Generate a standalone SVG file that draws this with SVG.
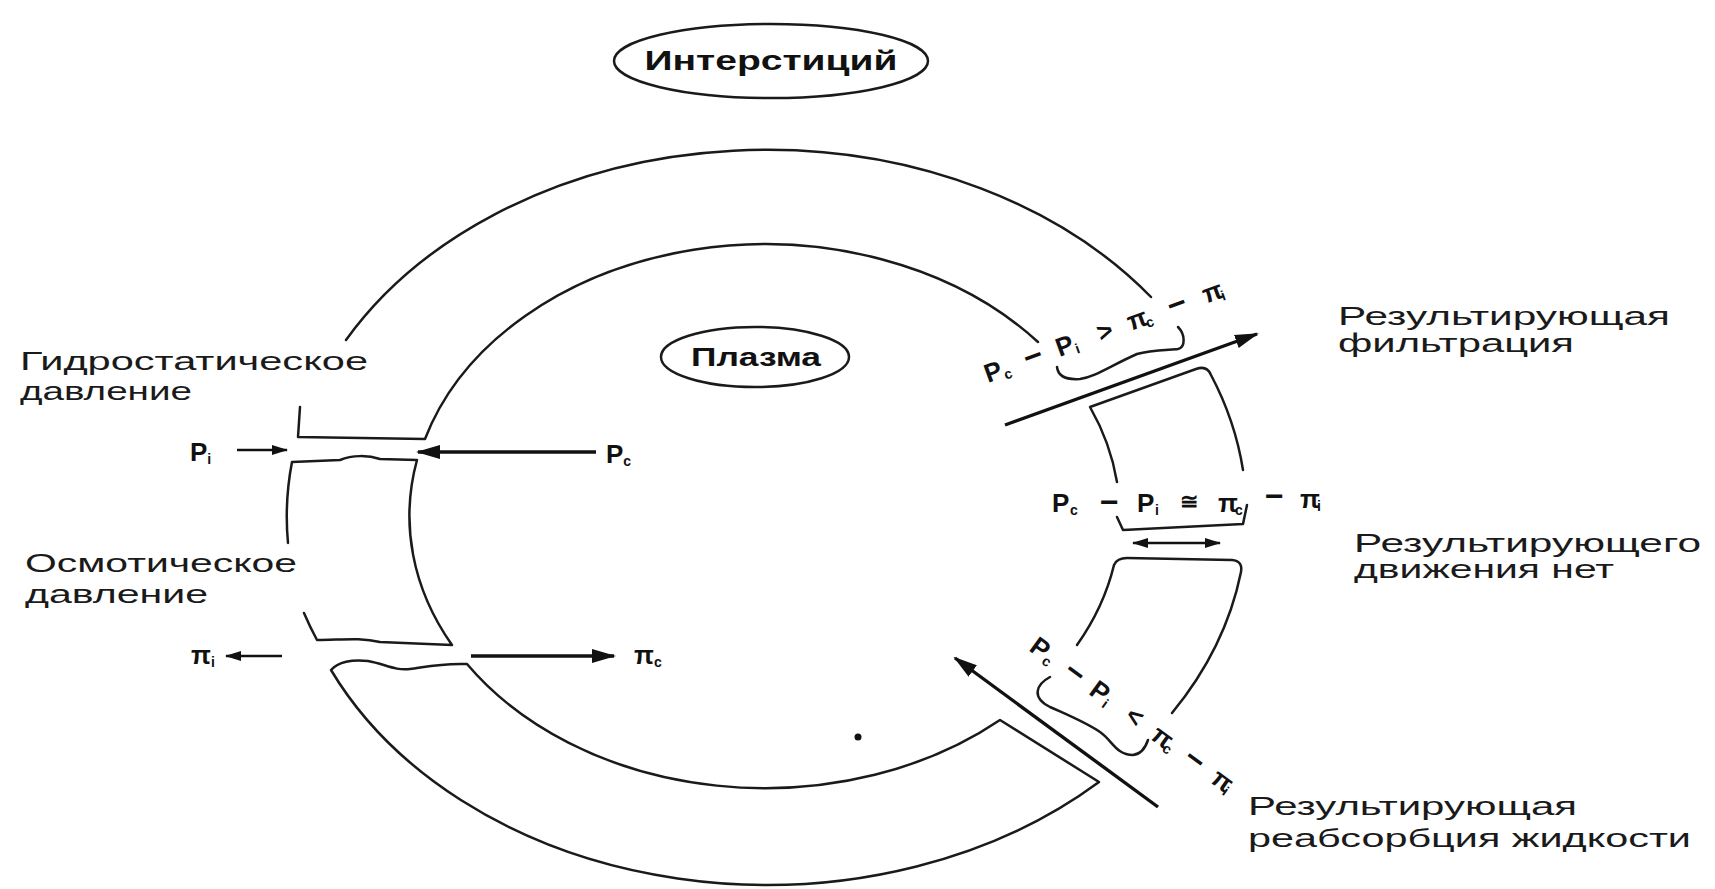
<svg xmlns="http://www.w3.org/2000/svg" width="1715" height="889" viewBox="0 0 1715 889">
<style>
.w{fill:none;stroke:#1a1a1a;stroke-width:2.5;stroke-linecap:round;stroke-linejoin:round}
.a{fill:none;stroke:#111;stroke-width:3.4}
.t{fill:none;stroke:#111;stroke-width:2.4}
.lbl{font-family:"Liberation Sans",Arial,sans-serif;font-size:25px;fill:#1a1a1a}
.b{font-family:"Liberation Sans",Arial,sans-serif;font-weight:bold;fill:#111}
.f{font-family:"Liberation Sans",Arial,sans-serif;font-weight:bold;font-size:26px;fill:#111}
.s{font-size:14px}
.m{font-size:32px}
.q{font-size:22px}
</style>
<defs>
<marker id="ah" markerWidth="24" markerHeight="16" refX="22" refY="8" orient="auto-start-reverse" markerUnits="userSpaceOnUse"><path d="M0,1 L24,8 L0,15 Z" fill="#111"/></marker>
<marker id="as" markerWidth="16" markerHeight="12" refX="15" refY="6" orient="auto-start-reverse" markerUnits="userSpaceOnUse"><path d="M0,1 L16,6 L0,11 Z" fill="#111"/></marker>
</defs>
<rect width="1715" height="889" fill="#fff"/>

<g id="interstitium">
<ellipse cx="771" cy="61" rx="157" ry="37" class="w"/>
<text x="771" y="70" text-anchor="middle" class="b" font-size="27" textLength="253" lengthAdjust="spacingAndGlyphs">Интерстиций</text>
</g>

<g id="plasma">
<ellipse cx="755" cy="357" rx="94" ry="30" class="w"/>
<text x="756" y="366" text-anchor="middle" class="b" font-size="25" textLength="130" lengthAdjust="spacingAndGlyphs">Плазма</text>
</g>

<g id="wall-upper">
<path class="w" d="M346,340 A480,367 0 0 1 1151,297"/>
<path class="w" d="M300,407 L298,437 L425,439 A355,272 0 0 1 1038,342"/>
</g>

<g id="wall-left-middle">
<path class="w" d="M288,543 A480,370 0 0 1 292,462 L340,460 C352,455 368,455 380,459 L417,460 A355,272 0 0 0 452,645 L380,642 C360,637 340,640 317,640 A480,370 0 0 1 304,613"/>
</g>

<g id="wall-lower">
<path class="w" d="M331,670 C338,662 352,659 368,661 C385,664 395,671 410,669 C425,667 440,663 467,664 A355,272 0 0 0 1000,720 L1099,782 A480,370 0 0 1 331,670 Z"/>
</g>

<g id="wall-right-upper">
<path class="w" d="M1117,482 A355,272 0 0 0 1090,407 L1196,369 Q1207,365 1211,375 A480,370 0 0 1 1243,470"/>
</g>

<g id="wall-right-lower">
<path class="w" d="M1077,645 A355,272 0 0 0 1114,565 Q1117,558 1127,558 L1232,560 Q1243,561 1241,572 A480,370 0 0 1 1172,713"/>
</g>

<g id="braces">
<path class="w" d="M1057,367 C1058,376 1066,380 1080,379 C1095,377 1110,366 1137,354 C1150,350 1168,350 1178,349 C1186,347 1185,334 1178,327"/>
<path class="w" d="M1117,517 L1123,530 L1243,524 L1247,505"/>
<path class="w" d="M1050,677 C1035,685 1032,698 1050,707 C1070,716 1085,722 1100,732 C1112,740 1116,755 1133,755 C1142,754 1146,746 1148,740"/>
</g>

<g id="connectors">
<line class="t" x1="237" y1="450" x2="287" y2="450" marker-end="url(#as)"/>
<line class="a" x1="596" y1="452" x2="418" y2="452" marker-end="url(#ah)"/>
<line class="t" x1="282" y1="656" x2="226" y2="656" marker-end="url(#as)"/>
<line class="a" x1="471" y1="656" x2="614" y2="656" marker-end="url(#ah)"/>
<line class="a" x1="1005" y1="425" x2="1257" y2="334" marker-end="url(#ah)"/>
<line class="a" x1="1158" y1="807" x2="955" y2="658" marker-end="url(#ah)"/>
<line class="t" x1="1133" y1="543" x2="1220" y2="543" marker-start="url(#as)" marker-end="url(#as)"/>
</g>

<g id="labels">
<text class="lbl" x="20" y="370" textLength="348" lengthAdjust="spacingAndGlyphs">Гидростатическое</text>
<text class="lbl" x="20" y="400" textLength="172" lengthAdjust="spacingAndGlyphs">давление</text>
<text class="lbl" x="25" y="572" textLength="272" lengthAdjust="spacingAndGlyphs">Осмотическое</text>
<text class="lbl" x="25" y="603" textLength="183" lengthAdjust="spacingAndGlyphs">давление</text>
<text class="lbl" x="1338" y="325" textLength="332" lengthAdjust="spacingAndGlyphs">Результирующая</text>
<text class="lbl" x="1338" y="352" textLength="236" lengthAdjust="spacingAndGlyphs">фильтрация</text>
<text class="lbl" x="1354" y="552" textLength="347" lengthAdjust="spacingAndGlyphs">Результирующего</text>
<text class="lbl" x="1354" y="578" textLength="260" lengthAdjust="spacingAndGlyphs">движения нет</text>
<text class="lbl" x="1248" y="815" textLength="329" lengthAdjust="spacingAndGlyphs">Результирующая</text>
<text class="lbl" x="1248" y="847" textLength="443" lengthAdjust="spacingAndGlyphs">реабсорбция жидкости</text>
<text class="f" x="190" y="461">P<tspan class="s" dy="3">i</tspan></text>
<text class="f" x="606" y="463">P<tspan class="s" dy="3">c</tspan></text>
<text class="f" x="191" y="664">π<tspan class="s" dy="3">i</tspan></text>
<text class="f" x="634" y="664">π<tspan class="s" dy="3">c</tspan></text>
</g>

<g id="formulas">
<text class="f" transform="translate(988,383) rotate(-20)"><tspan x="0" y="0">P</tspan><tspan class="s" x="18" y="3">c</tspan><tspan class="m" x="42" y="1">−</tspan><tspan x="76" y="0">P</tspan><tspan class="s" x="94" y="3">i</tspan><tspan x="120" y="0">&gt;</tspan><tspan x="152" y="0">π</tspan><tspan class="s" x="169" y="3">c</tspan><tspan class="m" x="195" y="1">−</tspan><tspan x="232" y="0">π</tspan><tspan class="s" x="249" y="3">i</tspan></text>
<text class="f" transform="translate(1052,512)"><tspan x="0" y="0">P</tspan><tspan class="s" x="18" y="3">c</tspan><tspan class="m" x="48" y="1">−</tspan><tspan x="85" y="0">P</tspan><tspan class="s" x="103" y="3">i</tspan><tspan class="q" x="128" y="-3">≅</tspan><tspan x="166" y="0">π</tspan><tspan class="s" x="183" y="3">c</tspan><tspan class="m" x="213" y="-5">−</tspan><tspan x="248" y="-4">π</tspan><tspan class="s" x="265" y="-1">i</tspan></text>
<text class="f" transform="translate(1028,650) rotate(36)"><tspan x="0" y="0">P</tspan><tspan class="s" x="18" y="3">c</tspan><tspan class="m" x="42" y="1">−</tspan><tspan x="74" y="0">P</tspan><tspan class="s" x="92" y="3">i</tspan><tspan x="118" y="0">&lt;</tspan><tspan x="150" y="0">π</tspan><tspan class="s" x="167" y="3">c</tspan><tspan class="m" x="190" y="1">−</tspan><tspan x="224" y="0">π</tspan><tspan class="s" x="241" y="3">i</tspan></text>
</g>

<circle cx="858" cy="737" r="3.5" fill="#111"/>
</svg>
